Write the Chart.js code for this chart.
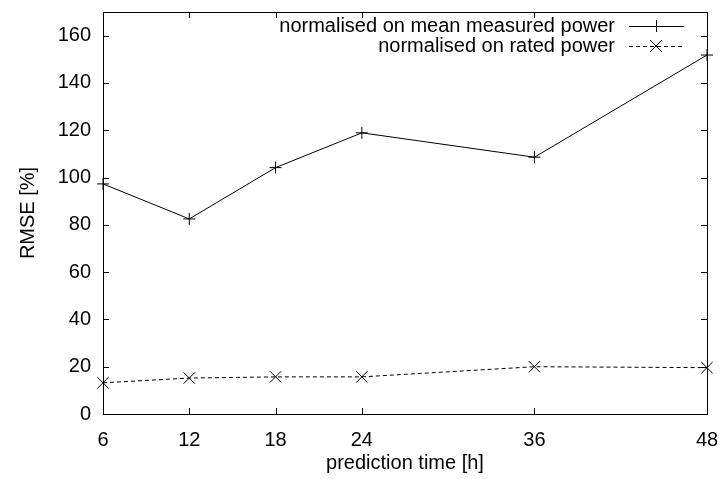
<!DOCTYPE html>
<html><head><meta charset="utf-8">
<script src="https://cdn.jsdelivr.net/npm/chart.js@4/dist/chart.umd.min.js"></script>
<style>html,body{margin:0;padding:0;background:#fff}#wrap{width:720px;height:479px}</style>
</head><body><div id="wrap"><canvas id="c" width="720" height="479"></canvas></div>
<script>
const hours = [6, 12, 18, 24, 36, 48];
const meanMeasured = [97.3, 82.5, 104.2, 118.9, 108.6, 151.8];
const ratedPower = [13.2, 15.2, 15.7, 15.7, 20.0, 19.6];
const xTicks = [6, 12, 18, 24, 36, 48];
const yTicks = [0, 20, 40, 60, 80, 100, 120, 140, 160];
const seriesNames = ['normalised on mean measured power', 'normalised on rated power'];
const FONT = '"Liberation Sans", Arial, sans-serif';
const FS = 20;

const boxTicks = {
  id: 'boxTicks',
  afterDatasetsDraw(chart) {
    const {ctx, chartArea: a, scales: {x, y}} = chart;
    ctx.save();
    ctx.strokeStyle = '#000'; ctx.lineWidth = 1;
    ctx.beginPath();
    const L = 6;
    xTicks.forEach(v => { const px = Math.round(x.getPixelForValue(v)) + 0.5;
      ctx.moveTo(px, a.bottom); ctx.lineTo(px, a.bottom - L);
      ctx.moveTo(px, a.top); ctx.lineTo(px, a.top + L); });
    yTicks.forEach(v => { const py = Math.round(y.getPixelForValue(v)) + 0.5;
      ctx.moveTo(a.left, py); ctx.lineTo(a.left + L, py);
      ctx.moveTo(a.right, py); ctx.lineTo(a.right - L, py); });
    ctx.stroke();
    ctx.strokeRect(Math.round(a.left) + 0.5, Math.round(a.top) + 0.5, Math.round(a.right - a.left), Math.round(a.bottom - a.top));
    // legend
    ctx.font = FS + 'px ' + FONT;
    ctx.fillStyle = '#000'; ctx.textAlign = 'right'; ctx.textBaseline = 'middle';
    const rows = [{y: 26, dash: [], m: 'plus'}, {y: 46, dash: [4, 3], m: 'cross'}];
    chart.data.datasets.forEach((ds, i) => {
      const r = rows[i];
      ctx.fillText(ds.label, 615, r.y);
      ctx.setLineDash(r.dash);
      ctx.beginPath(); ctx.moveTo(629, r.y + 0.5); ctx.lineTo(684, r.y + 0.5); ctx.stroke();
      ctx.setLineDash([]);
      ctx.beginPath();
      const cx = 656, s = 6;
      if (r.m === 'plus') { ctx.moveTo(cx - s, r.y + 0.5); ctx.lineTo(cx + s, r.y + 0.5); ctx.moveTo(cx + 0.5, r.y - s); ctx.lineTo(cx + 0.5, r.y + s); }
      else { ctx.moveTo(cx - s, r.y - s); ctx.lineTo(cx + s, r.y + s); ctx.moveTo(cx - s, r.y + s); ctx.lineTo(cx + s, r.y - s); }
      ctx.stroke();
    });
    ctx.restore();
  }
};

new Chart(document.getElementById('c'), {
  type: 'line',
  data: {
    datasets: [
      { label: seriesNames[0], data: hours.map((h, i) => ({x: h, y: meanMeasured[i]})),
        borderColor: '#000', borderWidth: 1, pointStyle: 'cross', pointRadius: 6, pointBorderWidth: 1,
        pointBorderColor: '#000', pointBackgroundColor: '#000', fill: false, tension: 0, clip: false },
      { label: seriesNames[1], data: hours.map((h, i) => ({x: h, y: ratedPower[i]})),
        borderColor: '#000', borderWidth: 1, borderDash: [4, 3], pointStyle: 'crossRot', pointRadius: 8, pointBorderWidth: 1,
        pointBorderColor: '#000', pointBackgroundColor: '#000', fill: false, tension: 0, clip: false }
    ]
  },
  options: {
    responsive: false, animation: false, events: [],
    layout: { padding: { top: 12, right: 13, left: 0, bottom: 0 } },
    plugins: { legend: { display: false }, tooltip: { enabled: false } },
    scales: {
      x: { type: 'linear', min: 6, max: 48,
        afterBuildTicks: s => { s.ticks = xTicks.map(v => ({value: v})); },
        afterFit: s => { s.height = 65; s.paddingLeft = 0; s.paddingRight = 0; },
        grid: { display: false, drawTicks: false }, border: { display: false },
        ticks: { color: '#000', font: { size: FS, family: FONT }, padding: 14, maxRotation: 0 },
        title: { display: true, text: 'prediction time [h]', color: '#000', font: { size: FS, family: FONT }, padding: { top: 6 } } },
      y: { type: 'linear', min: 0, max: 170,
        afterBuildTicks: s => { s.ticks = yTicks.map(v => ({value: v})); },
        afterFit: s => { s.width = 103; s.paddingTop = 0; s.paddingBottom = 0; },
        grid: { display: false, drawTicks: false }, border: { display: false },
        ticks: { color: '#000', font: { size: FS, family: FONT }, padding: 12 },
        title: { display: true, text: 'RMSE [%]', color: '#000', font: { size: FS, family: FONT }, padding: { top: 16, bottom: 0 } } }
    }
  },
  plugins: [boxTicks]
});
</script></body></html>
